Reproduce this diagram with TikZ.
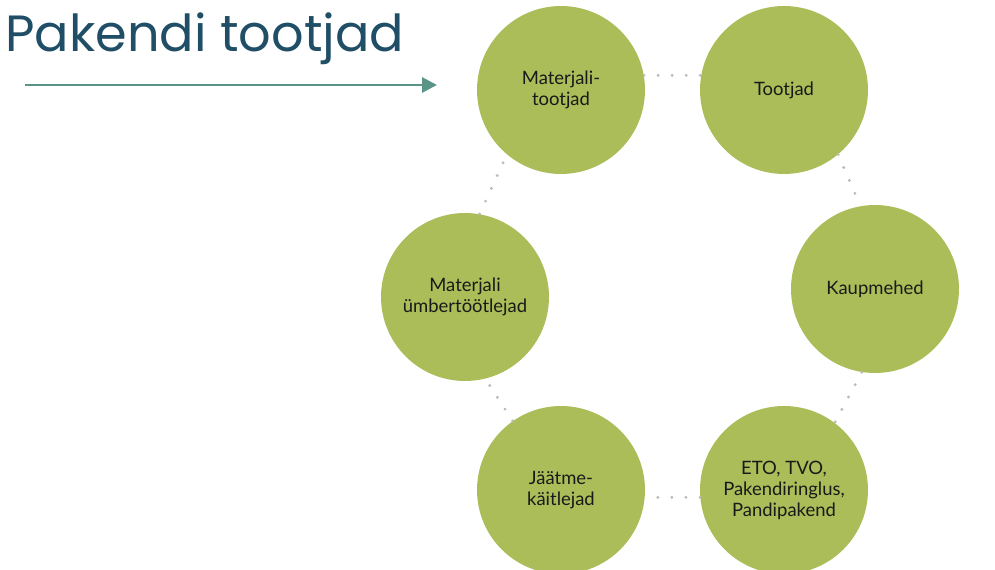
\documentclass[tikz,border=0pt]{standalone}
\usepackage{fontspec}
\setmainfont{Lato}
\newfontfamily\titlefont{Poppins}
\usetikzlibrary{arrows.meta}

\definecolor{titleblue}{RGB}{31,78,102}
\definecolor{arrowteal}{RGB}{90,148,136}
\definecolor{leafgreen}{RGB}{170,189,89}
\definecolor{dotgray}{RGB}{185,188,178}

\tikzset{
  actor/.style={circle, fill=leafgreen, minimum size=3.36cm, inner sep=0pt,
    align=center, text=black!90, font=\fontsize{10.5}{12}\selectfont},
  link/.style={dotgray, line width=1.8pt, line cap=round, dash pattern=on 0pt off 8pt}
}

\begin{document}
\begin{tikzpicture}[x=0.02cm, y=-0.02cm]
        \useasboundingbox (0,0) rectangle (995,570);

        %% Title and the arrow under it
        \node [anchor=base west, inner sep=0pt, text=titleblue,
               font=\titlefont\fontsize{29}{34}\selectfont] (title) at (5,52) {Pakendi tootjad};
        \coordinate (start) at (25,85);
        \coordinate (tip) at (437,85);
        \draw [arrowteal, line width=1.7pt, -{Triangle[length=0.3cm, width=0.3cm]}] (start) -- (tip);

        %% The six circles
        \node [actor] (mt) at (561,90) {Materjali-\\tootjad};
        \node [actor] (to) at (784,90) {Tootjad};
        \node [actor] (kp) at (875,289) {Kaupmehed};
        \node [actor] (eto) at (784,490) {ETO, TVO,\\Pakendiringlus,\\Pandipakend};
        \node [actor] (jk) at (561,490) {Jäätme-\\käitlejad};
        \node [actor] (um) at (465,297) {Materjali\\ümbertöötlejad};

        %% Dotted links between them
        \draw [link] (mt.10) -- (to.170);
        \draw [link] (to.-50) -- (kp.100);
        \draw [link] (kp.-99) -- (eto.53);
        \draw [link] (eto.185) -- (jk.-5);
        \draw [link] (jk.125) -- (um.-76);
        \draw [link] (um.80) -- (mt.230);
\end{tikzpicture}
\end{document}
